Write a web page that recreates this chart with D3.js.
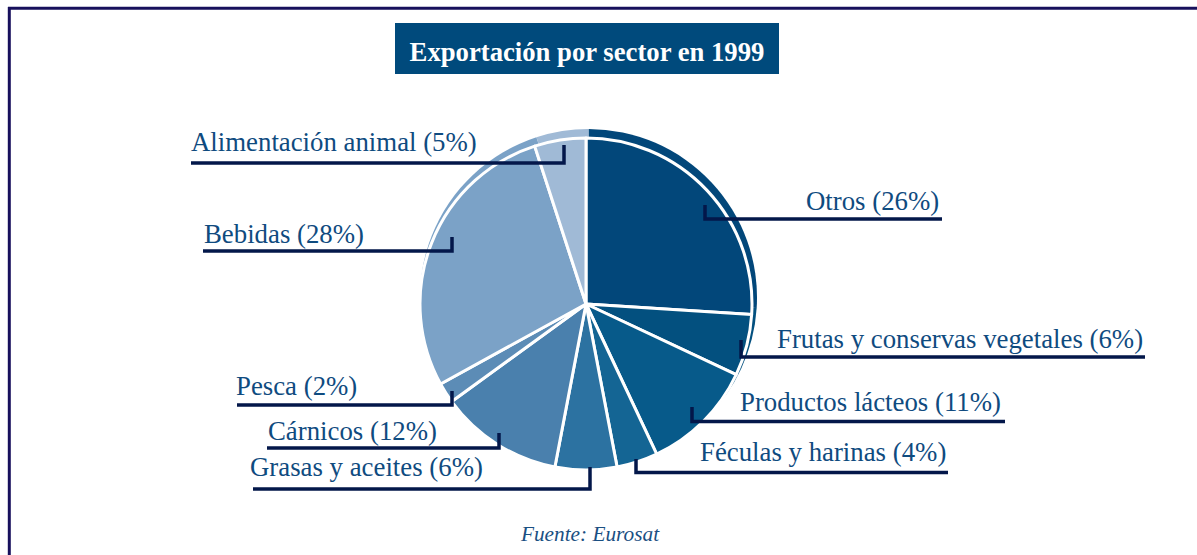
<!DOCTYPE html>
<html>
<head>
<meta charset="utf-8">
<script src="https://cdn.jsdelivr.net/npm/d3@7"></script>
<style>
  html, body { margin: 0; padding: 0; background: #ffffff; }
  svg { display: block; }
</style>
</head>
<body>
<svg id="chart" width="1197" height="555"></svg>
<script>
// ---- Data ----
const categories = [
  "Otros",
  "Frutas y conservas vegetales",
  "Productos lácteos",
  "Féculas y harinas",
  "Grasas y aceites",
  "Cárnicos",
  "Pesca",
  "Bebidas",
  "Alimentación animal"
];
const shares = [26, 6, 11, 4, 6, 12, 2, 28, 5];
const titleText = "Exportación por sector en 1999";
const sourceText = "Fuente: Eurosat";

// ---- Styles / layout ----
const palette = ["#02477a", "#03507f", "#075a8a", "#146594", "#2c72a1", "#4a80ad", "#5c8cb6", "#7ba2c7", "#a0bad6"];
const textColor = "#0f4b7f";
const leaderColor = "#03174a";
const W = 1197, H = 555;
const cx = 586, cy = 304, R = 166;

// label layout: text anchor position, underline y, underline extents, tick x/top
const labelLayout = [
  { tx: 806, ty: 210, ly: 219,   x0: 705, x1: 942,  tick: 705, top: 205 },
  { tx: 777, ty: 348, ly: 357,   x0: 741, x1: 1145, tick: 741, top: 340 },
  { tx: 740, ty: 411, ly: 421.5, x0: 692, x1: 1005, tick: 692, top: 407 },
  { tx: 700, ty: 461, ly: 472.5, x0: 636, x1: 948,  tick: 636, top: 459 },
  { tx: 250, ty: 476, ly: 489,   x0: 253, x1: 590,  tick: 590, top: 467 },
  { tx: 268, ty: 440, ly: 448,   x0: 267, x1: 499,  tick: 499, top: 433 },
  { tx: 236, ty: 395, ly: 405,   x0: 237, x1: 452,  tick: 452, top: 391 },
  { tx: 204, ty: 243, ly: 251,   x0: 203, x1: 452,  tick: 452, top: 237 },
  { tx: 191, ty: 151, ly: 163,   x0: 191, x1: 564,  tick: 564, top: 145 }
];

const svg = d3.select("#chart");

// frame (top and left)
svg.append("line").attr("x1", 8).attr("y1", 8.3).attr("x2", W).attr("y2", 8.3)
  .attr("stroke", "#17105c").attr("stroke-width", 3);
svg.append("line").attr("x1", 9.3).attr("y1", 7).attr("x2", 9.3).attr("y2", H)
  .attr("stroke", "#17105c").attr("stroke-width", 3);

// title box
const titleG = svg.append("g");
titleG.append("rect").attr("x", 395).attr("y", 23).attr("width", 384).attr("height", 51)
  .attr("fill", "#004a7c");
titleG.append("text").attr("x", 587).attr("y", 61)
  .attr("text-anchor", "middle")
  .attr("font-family", "'Liberation Serif', 'Times New Roman', serif")
  .attr("font-weight", "bold").attr("font-size", 26.7)
  .attr("fill", "#ffffff").text(titleText);

// pie
const color = d3.scaleOrdinal().domain(categories).range(palette);
const pie = d3.pie().sort(null).value(d => d.v);
const arcs = pie(categories.map((c, i) => ({ c, v: shares[i] })));

// back rim (slight offset, gives the raised edge)
const rimArc = d3.arc().innerRadius(0).outerRadius(R + 2.5);
svg.append("g").attr("transform", `translate(${cx + 2.5},${cy - 6.5})`)
  .selectAll("path").data(arcs).join("path")
  .attr("d", rimArc)
  .attr("fill", d => color(d.data.c));

const arc = d3.arc().innerRadius(0).outerRadius(R);
svg.append("g").attr("transform", `translate(${cx},${cy})`)
  .selectAll("path").data(arcs).join("path")
  .attr("d", arc)
  .attr("fill", d => color(d.data.c))
  .attr("stroke", "#ffffff").attr("stroke-width", 3).attr("stroke-linejoin", "round");

// labels with leader lines
const lg = svg.append("g");
categories.forEach((c, i) => {
  const L = labelLayout[i];
  const isLeft = L.tick > L.x0 + 1;
  const p = isLeft
    ? `M${L.x0},${L.ly}H${L.tick}V${L.top}`
    : `M${L.tick},${L.top}V${L.ly}H${L.x1}`;
  lg.append("path").attr("d", p)
    .attr("fill", "none").attr("stroke", leaderColor)
    .attr("stroke-width", 3.5).attr("stroke-linejoin", "miter");
  lg.append("text").attr("x", L.tx).attr("y", L.ty)
    .attr("font-family", "'Liberation Serif', 'Times New Roman', serif")
    .attr("font-size", 26.8).attr("fill", textColor)
    .text(`${c} (${shares[i]}%)`);
});

// source
svg.append("text").attr("x", 590).attr("y", 541)
  .attr("text-anchor", "middle")
  .attr("font-family", "'Liberation Serif', 'Times New Roman', serif")
  .attr("font-style", "italic").attr("font-size", 21.3)
  .attr("fill", "#1a4f82").text(sourceText);
</script>
</body>
</html>
